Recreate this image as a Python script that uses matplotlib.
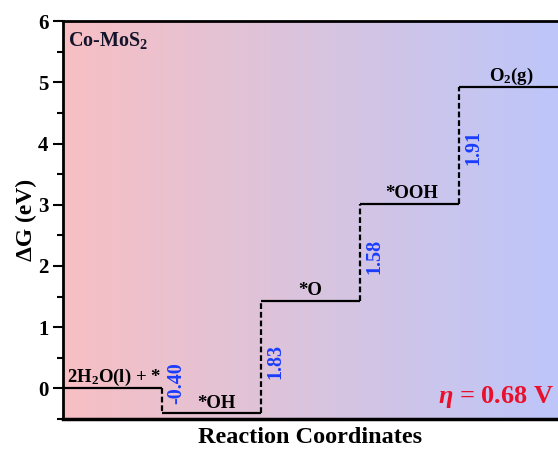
import numpy as np
import matplotlib
matplotlib.use("Agg")
import matplotlib.pyplot as plt
from matplotlib.colors import LinearSegmentedColormap

species = ["2H$_2$O(l) + *", "*OH", "*O", "*OOH", "O$_2$(g)"]
energies = [0.0, -0.40, 1.43, 3.01, 4.92]
steps = ["-0.40", "1.83", "1.58", "1.91"]
yticks = [0, 1, 2, 3, 4, 5, 6]

plt.rcParams['font.family'] = ['Liberation Serif', 'DejaVu Serif']
plt.rcParams['mathtext.fontset'] = 'custom'
plt.rcParams['mathtext.rm'] = 'Liberation Serif:bold'
plt.rcParams['mathtext.it'] = 'Liberation Serif:bold:italic'
plt.rcParams['mathtext.bf'] = 'Liberation Serif:bold'

fig = plt.figure(figsize=(5.58, 4.51), dpi=100)
ax = fig.add_axes([0.113, 0.071, 0.887, 0.882])

# gradient background
cmap = LinearSegmentedColormap.from_list("bg", ["#F8BFC3", "#D9C4DE", "#BDC6FA"])
grad = np.linspace(0, 1, 256).reshape(1, -1)
ax.imshow(grad, cmap=cmap, aspect='auto', extent=[0, 1, 0, 1],
          transform=ax.transAxes, zorder=0)

n = len(energies)
for i, e in enumerate(energies):
    ax.plot([i, i + 1], [e, e], color='black', lw=1.6, zorder=3, solid_capstyle='butt')
for i in range(n - 1):
    ax.plot([i + 1, i + 1], [energies[i], energies[i + 1]], color='black', lw=1.6,
            ls=(0, (2.6, 1.3)), zorder=3)

# species labels
lab_x = [0.04, 1.55, 2.5, 3.52, 4.53]
lab_off = [0.1, 0.08, 0.1, 0.1, 0.1]
for i, (s, e) in enumerate(zip(species, energies)):
    ax.text(lab_x[i], e + lab_off[i], s, ha='left' if i == 0 else 'center',
            va='baseline', fontsize=13.5, fontweight='bold', zorder=4)

# step labels
step_y = [0.08, 0.44, 2.16, 3.93]
for i, s in enumerate(steps):
    ax.text(i + 1.04, step_y[i], s, rotation=90, ha='left', va='center',
            fontsize=14.5, fontweight='bold', color='#1a3cff', zorder=4)

ax.text(0.01, 0.937, "Co-MoS$_2$", transform=ax.transAxes, ha='left', va='baseline',
        fontsize=14.5, fontweight='bold', color='#14142a')
ax.text(0.992, 0.04, r"$\eta$ = 0.68 V", transform=ax.transAxes, ha='right',
        va='baseline', fontsize=19, fontweight='bold', color='#e8102a')

ax.set_xlim(0, 5)
ax.set_ylim(-0.48, 6)
ax.set_yticks(yticks)
ax.set_yticks(np.arange(-0.5, 6.01, 0.5), minor=True)
ax.set_xticks([])
ax.tick_params(axis='y', which='major', length=7, width=1.5, labelsize=15, direction='out')
ax.tick_params(axis='y', which='minor', length=4, width=1.5, direction='out')
for lab in ax.get_yticklabels():
    lab.set_fontweight('bold')
ax.spines['right'].set_visible(False)
ax.spines['left'].set_linewidth(2)
ax.spines['top'].set_linewidth(2)
ax.spines['bottom'].set_linewidth(2.5)

ax.set_xlabel("Reaction Coordinates", fontsize=17.5, fontweight='bold', labelpad=6)
ax.set_ylabel("ΔG (eV)", fontsize=17, fontweight='bold', labelpad=1)

fig.savefig("out.png", dpi=100)
